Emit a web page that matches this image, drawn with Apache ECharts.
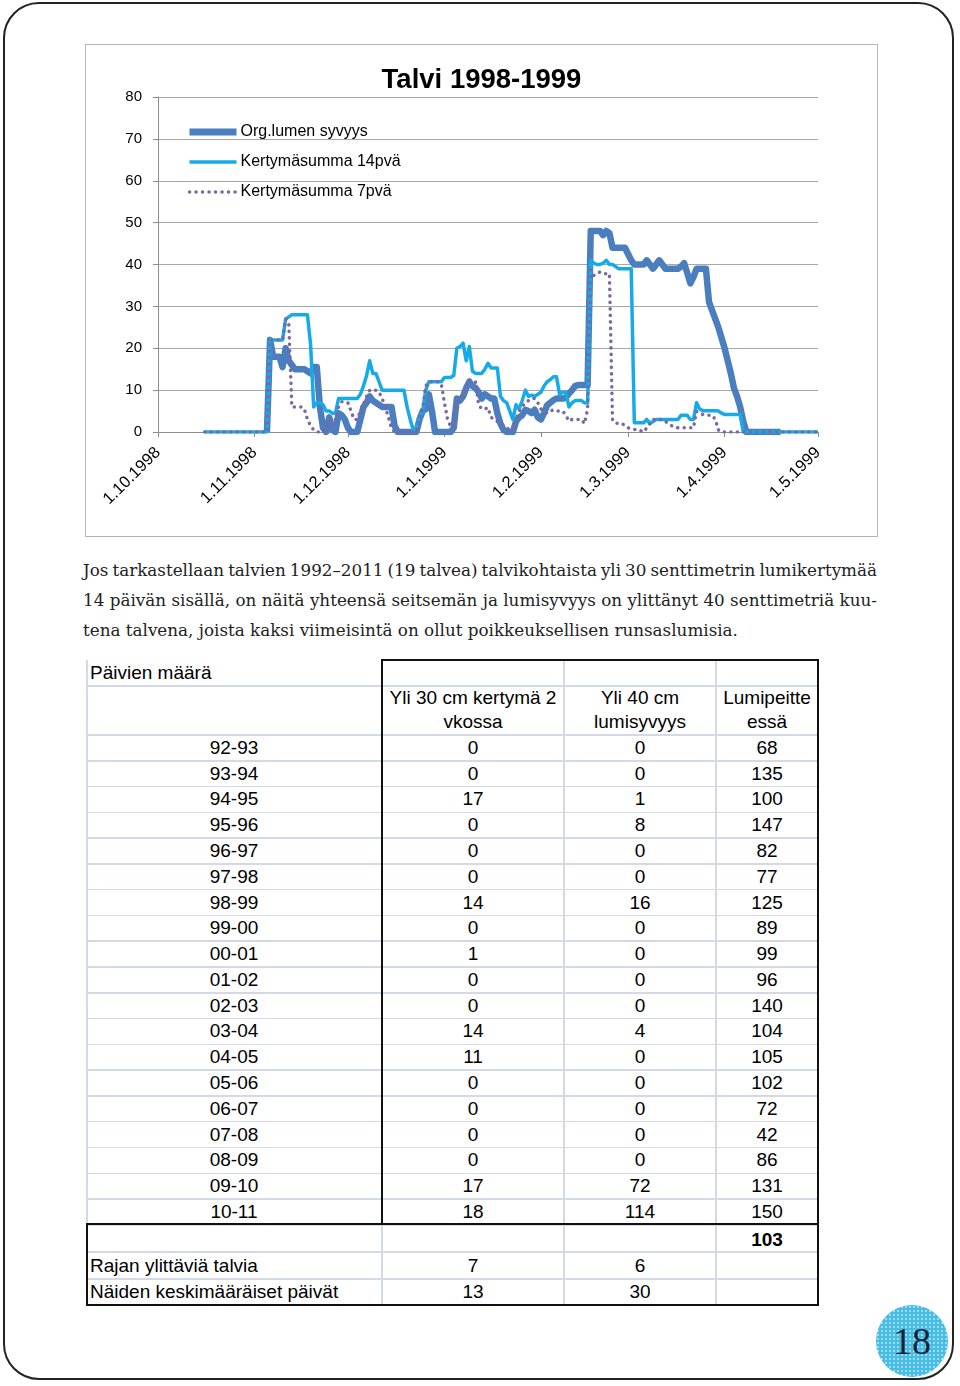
<!DOCTYPE html>
<html>
<head>
<meta charset="utf-8">
<script src="https://cdn.jsdelivr.net/npm/echarts@6/dist/echarts.min.js"></script>
<style>
  html, body { margin: 0; padding: 0; background: #fff; }
  body { width: 960px; height: 1386px; position: relative; overflow: hidden; }
  #pageFrame { position: absolute; left: 3px; top: 2px; width: 951px; height: 1378px; border: 2px solid #222; border-radius: 36px; box-sizing: border-box; }
  #chart { position: absolute; left: 85px; top: 44px; width: 791px; height: 491px; border: 1px solid #b5b5b5; }
  .para { position: absolute; left: 83px; height: 30px; line-height: 30px; font-family: "DejaVu Serif", serif; font-size: 17px; color: #222; white-space: nowrap; }
  .cell { position: absolute; font-family: "Liberation Sans", Arial, sans-serif; font-size: 19px; color: #000; white-space: nowrap; line-height: 24px; }
  .ln { position: absolute; }
  #pnum { position: absolute; left: 876px; top: 1305px; width: 72px; height: 72px; border-radius: 50%;
    background-color: #47bde6; background-image: radial-gradient(circle, #9bdcf2 35%, transparent 40%); background-size: 4px 4px;
    font-family: "Liberation Serif", serif; font-size: 38px; color: #14253a; text-align: center; line-height: 72px; }
</style>
</head>
<body>
<div id="pageFrame"></div>
<div id="chart"></div>
<div class="para" data-just="1" style="top:555px">Jos tarkastellaan talvien 1992–2011 (19 talvea) talvikohtaista yli 30 senttimetrin lumikertymää</div>
<div class="para" data-just="1" style="top:585px">14 päivän sisällä, on näitä yhteensä seitsemän ja lumisyvyys on ylittänyt 40 senttimetriä kuu-</div>
<div class="para" id="lastLine" style="top:615px">tena talvena, joista kaksi viimeisintä on ollut poikkeuksellisen runsaslumisia.</div>
<div id="tbl"></div>
<div id="pnum">18</div>
<script>
// ---------- chart data (daily values, 1.10.1998 – 1.5.1999) ----------
const seriesNames = ['Org.lumen syvyys', 'Kertymäsumma 14pvä', 'Kertymäsumma 7pvä'];
const monthTicks = ['1.10.1998','1.11.1998','1.12.1998','1.1.1999','1.2.1999','1.3.1999','1.4.1999','1.5.1999'];
const yTicks = [0, 10, 20, 30, 40, 50, 60, 70, 80];

const orgDepth = [
null,null,null,null,null,null,null,null,null,null,
null,null,null,null,null,null,null,null,null,null,
null,null,null,null,null,null,null,null,null,null,
null,null,null,null,null,0,22,18,18,18,
15.5,20,17,16,15,15,15,15,14.5,14,
15.5,15.5,6,1,0,3.5,0.5,0,4.5,4,
3,1,0,0,0,3,6,7,8.5,7.5,
7,6.5,6,6,6,6,1.5,0,0,0,
0,0,0,0,3,5,5.5,9,5,0,
0,0,0,0,0,1,8,7.5,8.5,10.5,
12,11,10.5,9.5,8,9,8.5,8,8,4.5,
2,0.5,0,0,0,2.5,3.5,4,5.3,5,
4.5,5.3,3.5,3,4.5,6.4,7,7.6,8,8,
8,8.2,9.2,10,11,11.2,11.2,11.2,11.2,48,
48,48,48,47,48,47.5,44,44,44,44,
44,42.5,41,40,40,40,40,41,40,39,
40,41,40,39,39,39,39,39,39.5,40.3,
38,35.5,37,39,39,39,39,31,29,27,
25,22.5,20,17,14,10.5,8.5,6,2.5,0,
0,0,0,0,0,0,0,0,0,0,
0,null,null,null,null,null,null,null,null,null,
null,null,null
];

const sum14 = [
null,null,null,null,null,null,null,null,null,null,
null,null,null,null,null,0,0,0,0,0,
0,0,0,0,0,0,0,0,0,0,
0,0,0,0,0,0,22,22,22,22,
22,27,27.5,28,28,28,28,28,28,21,
6,7,7,6.5,5,5,4.5,4.5,8,8,
8,8,8,8,8,9,11,13.5,17,14,
14,12,10,10,10,10,10,10,10,10,
6,3,0.5,1,3.5,5,10,12,12,12,
12,12,13,13,13,13.5,20,20.4,21.2,17,
20.4,14.5,14,14,14,15,16.4,15.3,15.3,15.3,
8.5,7.5,7,5,3,6.5,5.5,7.5,10,8.5,
8.8,8.5,9,9.5,11,12,12.5,13.2,13.2,9,
9.5,9.5,6,7,7.5,7.5,7.5,7,6.9,41,
40.3,40,40,40.3,41,40,40,39.5,39,39,
39,39,39,2.2,2.2,2.2,2.2,3,2,2.5,
3,3,3,3,3,3,3,3,4,4,
4,3,3,7,5.5,5.1,5.1,5.1,5.1,5.1,
5,4.5,4.2,4.2,4.2,4.2,4.2,4.2,0,0,
0,0,0,0,0,0,0,0,0,0,
0,0,0,0,0,0,0,0,0,0,
0,0,0
];

const sum7 = [
null,null,null,null,null,null,null,null,null,null,
null,null,null,null,null,0,0,0,0,0,
0,0,0,0,0,0,0,0,0,0,
0,0,0,0,0,0,22,22,22,22,
22,27,26,6,6,6,6,5.5,3,1.5,
0.5,0,0,0,1,3,1.5,3,6,7.2,
7.2,7,5,3,3,5,6.5,8.5,10,10,
10,9.5,8,6,3.5,1,0,0,0,0,
0,0,0,0,3.5,5.5,11,12,12,12,
12,11.5,7,3,1.3,1,7.5,8,9,10.5,
12.4,12.4,12,6.5,5.5,5.5,5.8,3.5,3,2.5,
2,1.5,1,0.5,0.5,3,5,6,7,7.5,
8,8,7,5.5,5,4.5,5,5.3,5,5,
5,4,2.6,3,3,3,3,2,5.5,38.7,
37.4,38,38.2,37.8,37.8,37.8,2.9,2.1,2.1,2.1,
1.5,1,0.8,0.6,0.6,0.3,0,1,2,3,
3,3,3,2.5,2,1.5,1.2,1,1,1,
1,1,1,4.9,4.5,4.2,4,4,4,3,
0.5,0,0,0,0,0,0,0,0,0,
0,0,0,0,0,0,0,0,0,0,
0,0,0,0,0,0,0,0,0,0,
0,0,0
];

// daily category labels from 1.10.1998
const startYear = 1998, startMonth = 9, startDay = 1;
const days = [];
for (let i = 0; i < orgDepth.length; i++) {
  const dt = new Date(startYear, startMonth, startDay + i);
  days.push(dt.getDate() + '.' + (dt.getMonth() + 1) + '.' + dt.getFullYear());
}

// ---------- table data ----------
const seasons = ['92-93','93-94','94-95','95-96','96-97','97-98','98-99','99-00','00-01','01-02','02-03','03-04','04-05','05-06','06-07','07-08','08-09','09-10','10-11'];
const over30in2wk = [0,0,17,0,0,0,14,0,1,0,0,14,11,0,0,0,0,17,18];
const over40depth = [0,0,1,8,0,0,16,0,0,0,0,4,0,0,0,0,0,72,114];
const snowCoverDays = [68,135,100,147,82,77,125,89,99,96,140,104,105,102,72,42,86,131,150];
const snowCoverMean = 103;
const exceedWinters = [7, 6];
const exceedMeanDays = [13, 30];

// paragraph: size font from last line, justify others via word-spacing
(function fitPara() {
  const last = document.getElementById('lastLine');
  const nat = last.getBoundingClientRect().width;
  const fs = 17 * 655 / nat;
  document.querySelectorAll('.para').forEach(p => { p.style.fontSize = fs.toFixed(2) + 'px'; });
  document.querySelectorAll('.para[data-just]').forEach(p => {
    const w = p.getBoundingClientRect().width;
    const spaces = (p.textContent.match(/ /g) || []).length;
    p.style.wordSpacing = ((794 - w) / spaces).toFixed(3) + 'px';
  });
})();

// ---------- chart ----------
const chart = echarts.init(document.getElementById('chart'), null, { renderer: 'canvas' });
const FONT = '"Liberation Sans", Arial, sans-serif';
const COLORS = ['#4a7ebf', '#16abe6', '#7b68a2'];
chart.setOption({
  animation: false,
  title: {
    text: 'Talvi 1998-1999', left: 'center', top: 16,
    textStyle: { fontFamily: FONT, fontSize: 27.5, fontWeight: 'bold', color: '#000' }
  },
  legend: {
    orient: 'vertical', left: 95, top: 74, itemWidth: 47, itemHeight: 16, itemGap: 14,
    textStyle: { fontFamily: FONT, fontSize: 16, color: '#000', padding: [0, 0, 0, -1] },
    data: [
      { name: seriesNames[0], itemStyle: { opacity: 0 }, lineStyle: { width: 7 } },
      { name: seriesNames[1], itemStyle: { opacity: 0 }, lineStyle: { width: 3.5 } },
      { name: seriesNames[2], itemStyle: { opacity: 0 }, lineStyle: { width: 3.5 } }
    ]
  },
  grid: { left: 72, right: 59, top: 52, bottom: 104 },
  xAxis: {
    type: 'category', data: days, boundaryGap: false,
    axisLine: { lineStyle: { color: '#8c8c8c', width: 1 } },
    axisTick: { interval: (i, v) => monthTicks.includes(v), length: 5, lineStyle: { color: '#8c8c8c' } },
    axisLabel: { interval: (i, v) => monthTicks.includes(v), rotate: 45, margin: 18,
      fontFamily: FONT, fontSize: 16.5, color: '#000' },
    splitLine: { show: false }
  },
  yAxis: {
    type: 'value', min: yTicks[0], max: yTicks[yTicks.length - 1], interval: 10,
    axisLine: { show: true, lineStyle: { color: '#8c8c8c' } },
    axisTick: { show: true, length: 5, lineStyle: { color: '#8c8c8c' } },
    axisLabel: { margin: 16, fontFamily: FONT, fontSize: 15, color: '#000' },
    splitLine: { lineStyle: { color: '#a8a8a8', width: 1 } }
  },
  series: [
    { name: seriesNames[0], type: 'line', data: orgDepth, symbol: 'none', connectNulls: false,
      lineStyle: { color: COLORS[0], width: 6.5, join: 'round' }, itemStyle: { color: COLORS[0] } },
    { name: seriesNames[1], type: 'line', data: sum14, symbol: 'none', connectNulls: false,
      lineStyle: { color: COLORS[1], width: 3.5, join: 'round' }, itemStyle: { color: COLORS[1] } },
    { name: seriesNames[2], type: 'line', data: sum7, symbol: 'none', connectNulls: false,
      lineStyle: { color: COLORS[2], width: 3.5, type: [0.1, 6.4], cap: 'round', join: 'round' }, itemStyle: { color: COLORS[2] } }
  ]
});

// ---------- table ----------
const tbl = document.getElementById('tbl');
function cell(txt, x, y, align, extra) {
  const d = document.createElement('div');
  d.className = 'cell';
  d.innerHTML = txt;
  d.style.left = x + 'px';
  d.style.top = y + 'px';
  d.style.transform = align === 'left' ? 'translate(0,-50%)' : 'translate(-50%,-50%)';
  if (extra) Object.assign(d.style, extra);
  tbl.appendChild(d);
}
function hl(x1, x2, y, w, c) {
  const d = document.createElement('div'); d.className = 'ln';
  Object.assign(d.style, { left: x1 + 'px', top: (y - w / 2) + 'px', width: (x2 - x1) + 'px', height: w + 'px', background: c });
  tbl.appendChild(d);
}
function vl(x, y1, y2, w, c) {
  const d = document.createElement('div'); d.className = 'ln';
  Object.assign(d.style, { left: (x - w / 2) + 'px', top: y1 + 'px', width: w + 'px', height: (y2 - y1) + 'px', background: c });
  tbl.appendChild(d);
}
const colX = [87, 382, 564, 716, 818];
const colC = [234, 473, 640, 767];
const rowH = 25.78, dataTop = 735;
const grid = '#d3d9e6';
// light grid lines
hl(colX[0], colX[4], 686, 1.5, grid);
for (let i = 0; i <= seasons.length; i++) hl(colX[0], colX[4], dataTop + i * rowH, 1.5, grid);
hl(colX[0], colX[4], 1252, 1.5, grid);
hl(colX[0], colX[4], 1279, 1.5, grid);
vl(colX[0], 660, 1224, 1.5, grid);
vl(colX[2], 660, 1305, 1.5, grid);
vl(colX[3], 660, 1305, 1.5, grid);
vl(colX[1], 1224, 1305, 1.5, grid);
// thick borders
const K = '#111';
hl(colX[1] - 1, colX[4] + 1, 660, 2.2, K);
vl(colX[4], 659, 1306, 2.2, K);
vl(colX[1], 659, 1224, 2.2, K);
hl(colX[0] - 1, colX[4] + 1, 1224, 2.2, K);
vl(colX[0], 1223, 1306, 2.2, K);
hl(colX[0] - 1, colX[4] + 1, 1305, 2.2, K);
// header
cell('Päivien määrä', 90, 673, 'left');
cell('Yli 30 cm kertymä 2', colC[1], 698);
cell('vkossa', colC[1], 722);
cell('Yli 40 cm', colC[2], 698);
cell('lumisyvyys', colC[2], 722);
cell('Lumipeitte', colC[3], 698);
cell('essä', colC[3], 722);
// data rows
seasons.forEach((s, i) => {
  const y = dataTop + (i + 0.5) * rowH;
  cell(s, colC[0], y);
  cell(String(over30in2wk[i]), colC[1], y);
  cell(String(over40depth[i]), colC[2], y);
  cell(String(snowCoverDays[i]), colC[3], y);
});
cell(String(snowCoverMean), colC[3], 1240, 'center', { fontWeight: 'bold' });
cell('Rajan ylittäviä talvia', 90, 1266, 'left');
cell(String(exceedWinters[0]), colC[1], 1266);
cell(String(exceedWinters[1]), colC[2], 1266);
cell('Näiden keskimääräiset päivät', 90, 1292, 'left');
cell(String(exceedMeanDays[0]), colC[1], 1292);
cell(String(exceedMeanDays[1]), colC[2], 1292);
</script>
</body>
</html>
